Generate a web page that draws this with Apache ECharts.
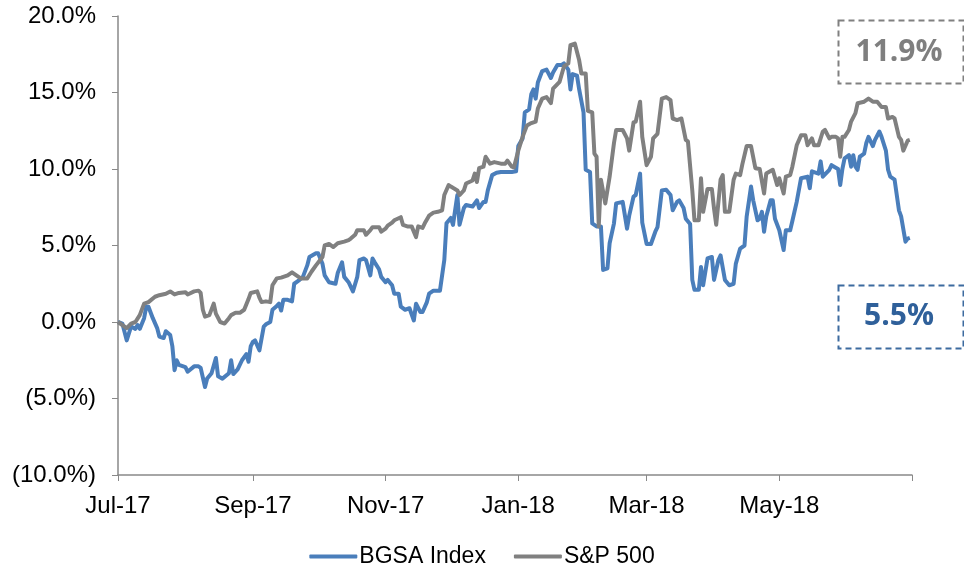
<!DOCTYPE html>
<html>
<head>
<meta charset="utf-8">
<script src="https://cdn.jsdelivr.net/npm/echarts@6/dist/echarts.min.js"></script>
<style>html,body{margin:0;padding:0;background:#fff;}#chart{width:964px;height:576px;}</style>
</head>
<body>
<div id="chart"></div>
<script>
// Days since 2017-07-01, cumulative return (%)
const bgsa = [[0,0.0],[2,-0.1],[4,-1.2],[6,-0.3],[8,-0.45],[9,-0.2],[10,-0.45],[12,0.25],[13,1.0],[14,1.0],[16,0.25],[18,-0.4],[19,-0.95],[21,-1.05],[22,-0.6],[24,-0.85],[25,-1.6],[26,-3.15],[27,-2.5],[28,-2.8],[31,-2.95],[32,-3.25],[35,-2.9],[37,-2.9],[38,-3.0],[40,-4.25],[41,-3.7],[43,-3.35],[45,-2.35],[46,-3.55],[48,-3.7],[51,-3.35],[52,-2.5],[53,-3.4],[55,-3.1],[57,-2.5],[59,-2.1],[60,-2.6],[61,-1.6],[62,-1.3],[63,-1.2],[65,-1.85],[67,-0.3],[68,-0.15],[70,0.0],[71,0.8],[73,1.05],[74,1.2],[75,0.75],[76,1.45],[78,1.45],[80,1.35],[81,2.5],[83,2.7],[85,2.95],[87,3.7],[88,4.25],[91,4.5],[92,4.5],[94,3.8],[95,3.05],[97,2.6],[100,2.5],[101,3.2],[103,3.9],[104,2.95],[106,2.6],[108,2.0],[110,2.95],[111,4.05],[113,4.15],[114,4.05],[116,3.05],[117,4.15],[118,3.9],[120,3.45],[121,2.95],[123,2.6],[124,2.75],[126,2.4],[127,1.85],[129,1.85],[130,1.0],[132,0.8],[134,0.9],[136,0.1],[137,1.2],[139,0.65],[140,0.65],[142,1.3],[143,1.85],[145,2.05],[148,2.05],[150,4.05],[151,6.45],[153,6.8],[154,6.35],[156,8.3],[157,6.35],[159,7.45],[160,7.65],[163,7.55],[165,7.95],[166,7.45],[168,7.85],[169,7.85],[170,8.6],[172,9.6],[174,9.75],[176,9.8],[179,9.8],[181,9.8],[183,9.85],[184,11.5],[186,12.0],[187,13.7],[189,13.9],[190,14.9],[191,15.2],[192,14.6],[193,15.65],[195,16.4],[197,16.5],[199,15.95],[200,16.3],[202,16.8],[204,16.8],[205,16.9],[207,16.5],[208,15.2],[209,16.2],[211,16.1],[212,15.2],[214,13.7],[215,9.95],[217,9.8],[218,6.45],[220,6.25],[222,6.25],[223,3.4],[225,3.5],[226,5.15],[228,6.45],[229,7.75],[232,7.85],[234,6.1],[235,6.95],[237,8.2],[238,8.3],[240,9.7],[241,6.5],[243,5.1],[245,5.1],[247,5.9],[248,6.2],[250,8.6],[252,8.65],[254,8.3],[255,7.3],[257,7.85],[258,7.95],[260,7.45],[261,6.75],[263,6.4],[264,2.75],[265,2.1],[267,2.1],[268,3.6],[269,2.4],[271,4.15],[273,4.25],[274,2.75],[276,4.05],[277,4.35],[279,2.75],[281,2.4],[283,2.5],[284,3.8],[286,4.8],[288,5.0],[289,6.9],[291,8.85],[292,7.95],[294,6.65],[295,6.75],[296,7.2],[297,5.9],[298,6.9],[300,7.95],[301,7.95],[302,6.75],[304,6.0],[306,4.7],[307,6.0],[309,6.0],[310,6.6],[312,7.85],[314,9.4],[317,9.5],[318,8.75],[319,9.85],[322,9.7],[323,10.5],[324,9.5],[327,9.95],[328,10.25],[331,10.0],[332,8.95],[333,10.0],[334,10.7],[336,10.9],[337,10.15],[338,10.9],[339,10.15],[340,9.95],[341,10.8],[343,11.0],[344,11.7],[345,12.1],[347,11.5],[348,11.9],[350,12.45],[351,12.1],[353,11.2],[354,9.95],[355,9.5],[357,9.3],[359,7.3],[360,6.9],[362,5.25],[363,5.45],[364,5.5]];

const sp500 = [[0,0.0],[4,-0.4],[6,-0.1],[8,0.0],[10,0.45],[12,1.2],[14,1.3],[17,1.65],[19,1.75],[22,1.85],[24,2.0],[26,1.8],[28,1.9],[31,1.95],[32,1.8],[35,2.0],[37,2.05],[38,1.9],[39,0.8],[40,0.35],[42,0.45],[44,1.2],[45,0.55],[47,0.0],[49,-0.1],[51,0.25],[52,0.45],[54,0.6],[56,0.6],[58,0.8],[60,1.5],[61,1.9],[64,2.0],[65,1.6],[66,1.3],[68,1.35],[70,1.3],[71,2.4],[73,2.85],[75,2.9],[78,3.05],[80,3.25],[82,3.05],[84,2.85],[87,2.85],[89,3.3],[91,3.7],[94,4.25],[95,5.0],[97,5.1],[99,4.9],[101,5.15],[104,5.25],[106,5.35],[107,5.45],[109,5.7],[110,6.0],[113,6.0],[114,5.7],[116,6.0],[117,6.2],[120,6.2],[121,5.9],[123,6.1],[124,6.3],[126,6.5],[127,6.65],[130,6.85],[131,6.35],[133,6.25],[135,6.25],[137,5.55],[138,6.25],[140,6.15],[141,6.45],[143,6.95],[145,7.15],[147,7.2],[149,7.3],[150,8.3],[152,8.95],[153,8.85],[156,8.6],[157,8.3],[159,8.6],[160,9.05],[163,9.25],[164,9.7],[165,9.15],[166,10.05],[168,10.15],[169,10.8],[171,10.35],[173,10.45],[176,10.35],[178,10.35],[179,10.55],[181,10.15],[182,10.1],[184,11.2],[186,12.1],[188,12.85],[190,13.0],[192,13.1],[193,13.95],[195,14.6],[197,14.7],[199,14.3],[200,15.25],[202,15.55],[203,15.7],[205,16.7],[206,16.8],[207,16.9],[208,18.1],[210,18.2],[212,17.1],[213,16.25],[215,16.25],[216,13.8],[218,13.7],[219,11.0],[220,10.8],[221,6.25],[222,9.3],[224,7.75],[226,9.5],[228,11.7],[229,12.55],[232,12.55],[234,12.0],[235,11.2],[237,13.05],[238,13.1],[240,14.4],[241,12.1],[243,10.25],[245,10.8],[246,12.0],[248,12.3],[250,14.6],[252,14.7],[254,14.5],[255,13.3],[257,13.2],[259,13.3],[261,11.9],[262,11.8],[264,8.6],[265,6.65],[267,6.65],[268,9.4],[269,7.2],[271,8.7],[273,8.7],[274,7.4],[275,6.35],[277,9.3],[278,9.6],[279,7.2],[281,7.2],[283,9.3],[284,9.7],[286,9.6],[287,10.3],[289,11.5],[291,11.5],[293,10.05],[295,10.0],[297,8.4],[298,9.7],[301,9.95],[303,8.95],[304,9.4],[306,8.4],[307,9.5],[309,9.6],[310,10.15],[312,11.55],[314,12.2],[316,12.2],[317,11.55],[319,12.0],[320,11.55],[322,11.55],[324,12.45],[325,12.55],[327,12.0],[328,12.1],[330,12.1],[331,12.0],[332,10.8],[333,12.1],[334,12.1],[336,12.55],[337,13.1],[339,13.65],[340,14.3],[343,14.4],[345,14.6],[347,14.4],[349,14.4],[351,14.05],[353,14.05],[354,13.3],[356,13.4],[357,13.3],[359,12.1],[360,11.9],[361,11.2],[363,11.85],[364,11.9]];

const seriesNames = ['BGSA Index', 'S&P 500'];
const tickDays = [0, 62, 123, 184, 243, 304, 365];
const tickLabels = ['Jul-17', 'Sep-17', 'Nov-17', 'Jan-18', 'Mar-18', 'May-18', ''];
const endLabels = ['5.5%', '11.9%'];

const chart = echarts.init(document.getElementById('chart'), null, {renderer: 'canvas'});
const axisColor = '#898989';
const font = 'Liberation Sans, Arial, sans-serif';

chart.setOption({
  animation: false,
  backgroundColor: '#ffffff',
  grid: {left: 118, right: 52, top: 16, bottom: 101, containLabel: false},
  xAxis: {
    type: 'value', min: 0, max: 365,
    axisLine: {show: true, onZero: false, lineStyle: {color: axisColor, width: 1.5}},
    axisTick: {show: true, length: 6, inside: false, customValues: tickDays, lineStyle: {color: axisColor, width: 1}},
    axisLabel: {
      show: true, customValues: tickDays.slice(0, 6), margin: 19,
      color: '#000', fontFamily: font, fontSize: 24,
      formatter: function (v) { const i = tickDays.indexOf(Math.round(v)); return i >= 0 ? tickLabels[i] : ''; }
    },
    splitLine: {show: false}
  },
  yAxis: {
    type: 'value', min: -10, max: 20, interval: 5,
    axisLine: {show: true, lineStyle: {color: axisColor, width: 1.5}},
    axisTick: {show: true, length: 6, lineStyle: {color: axisColor}},
    axisLabel: {
      margin: 22, color: '#000', fontFamily: font, fontSize: 24,
      formatter: function (v) { return v < 0 ? '(' + Math.abs(v).toFixed(1) + '%)' : v.toFixed(1) + '%'; }
    },
    splitLine: {show: false}
  },
  legend: {
    bottom: 3, left: 'center', itemWidth: 48, itemHeight: 4, itemGap: 28, icon: 'roundRect',
    textStyle: {fontFamily: font, fontSize: 23, color: '#000', padding: [0, 0, 0, -3]},
    data: seriesNames
  },
  series: [
    {name: seriesNames[0], type: 'line', data: bgsa, showSymbol: false, symbol: 'none',
     lineStyle: {color: '#4A7EBB', width: 4, join: 'round'}, itemStyle: {color: '#4A7EBB'}, z: 2},
    {name: seriesNames[1], type: 'line', data: sp500, showSymbol: false, symbol: 'none',
     lineStyle: {color: '#808080', width: 4, join: 'round'}, itemStyle: {color: '#808080'}, z: 3}
  ],
  graphic: [
    {type: 'rect', left: 836, top: 18, shape: {width: 125, height: 63},
     style: {fill: 'none', stroke: '#808080', lineWidth: 2, lineDash: [6, 4]}},
    {type: 'text',
     style: {text: endLabels[1], x: 899, y: 52, align: 'center', verticalAlign: 'middle', fill: '#7F7F7F', font: 'bold 30px "Open Sans", sans-serif'}},
    {type: 'rect', left: 836, top: 283, shape: {width: 125, height: 63},
     style: {fill: 'none', stroke: '#3D6B9F', lineWidth: 2, lineDash: [6, 4]}},
    {type: 'text',
     style: {text: endLabels[0], x: 899, y: 316, align: 'center', verticalAlign: 'middle', fill: '#2F609A', font: 'bold 30px "Open Sans", sans-serif'}}
  ]
});
</script>
</body>
</html>
